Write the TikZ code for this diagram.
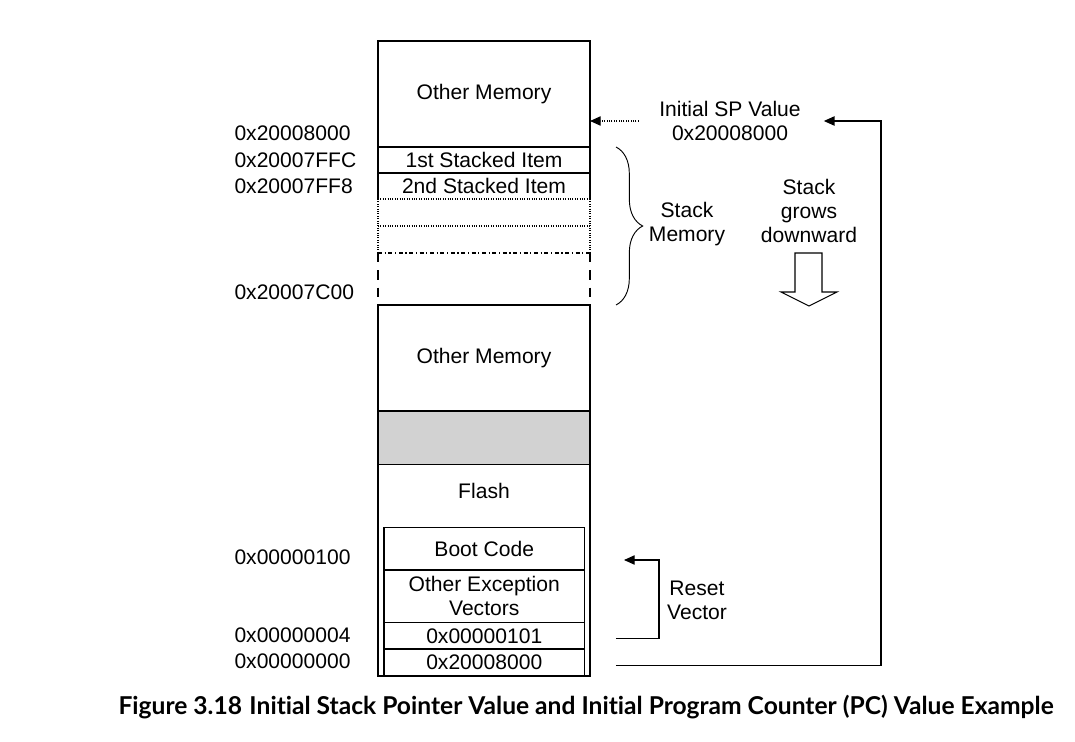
\documentclass[tikz,border=0pt]{standalone}
\usepackage{graphicx}
\usepackage{fontspec}
\setmainfont{Liberation Sans}
\newfontfamily\capfont[Ligatures=NoCommon]{Lato}
\usetikzlibrary{arrows.meta,decorations.pathreplacing}
\begin{document}
\begin{tikzpicture}[x=0.75pt,y=-0.75pt,
  font=\fontsize{15.8}{18}\selectfont,
  line width=0.8pt,
  cell/.style={draw, inner sep=0pt, outer sep=0pt, minimum width=159pt},
  icell/.style={draw, inner sep=0pt, outer sep=0pt, minimum width=150.4pt},
  addr/.style={anchor=west, inner sep=0pt},
  lbl/.style={align=center, inner sep=0pt},
  tip/.style={-{Triangle[length=8pt,width=7pt]}},
]
\useasboundingbox (0,0) rectangle (1075,742);
% main column
\node[cell, minimum height=79.5pt] (om1) at (484,94) {Other Memory};
\node[cell, minimum height=19.5pt] (s1) at (484,160) {1st Stacked Item};
\node[inner sep=0pt, outer sep=0pt, minimum width=159pt, minimum height=19.5pt] (s2) at (484,186) {2nd Stacked Item};
\draw (s2.north west) -- (s2.south west) (s2.north east) -- (s2.south east);
\draw[densely dotted] (s2.south west) -- (s2.south east);
\draw[densely dotted] (s2.south west) -- (378,253) (s2.south east) -- (590,253);
\draw[densely dotted] (378,226) -- (590,226);
\draw[dash dot] (378,253) -- (590,253);
\draw[dash pattern=on 7pt off 6pt] (378,253) -- (378,305) (590,253) -- (590,305);
\node[cell, minimum height=79.5pt] (om2) at (484,358) {Other Memory};
\node[cell, fill=gray!35, minimum height=40.1pt] (gr) at (484,437.75) {};
\node[cell, minimum height=158.6pt] (fl) at (484,570.25) {};
\node[lbl] (flt) at (484,491) {Flash};
\node[icell, minimum height=31.9pt] (boot) at (484.25,548.75) {Boot Code};
\node[icell, minimum height=39.4pt, align=center] (oev) at (484.25,596.25) {Other Exception\\Vectors};
\node[icell, minimum height=19.9pt] (v1) at (484.25,635.75) {0x00000101};
\node[icell, minimum height=20.25pt] (v0) at (484.25,662.5) {0x20008000};
% addresses
\node[addr] (a1) at (234,133) {0x20008000};
\node[addr] (a2) at (234,160) {0x20007FFC};
\node[addr] (a3) at (234,186) {0x20007FF8};
\node[addr] (a4) at (234,292) {0x20007C00};
\node[addr] (a5) at (234,557) {0x00000100};
\node[addr] (a6) at (234,635) {0x00000004};
\node[addr] (a7) at (234,661) {0x00000000};
% right side labels
\node[lbl] (sp) at (730,121) {Initial SP Value\\0x20008000};
\node[lbl] (sm) at (687,224.5) {Stack\\Memory};
\node[lbl] (sg) at (809,211) {Stack\\grows\\downward};
\node[lbl] (rv) at (697,600) {Reset\\Vector};
% brace
\draw[line width=0.7pt, decorate, decoration={brace, amplitude=20pt}] (616,147) -- (616,305);
% block arrow
\draw[fill=white] (795,253) -- (822,253) -- (822,292) -- (837,292) -- (809,306) -- (781,292) -- (795,292) -- cycle;
% connectors
\draw[densely dotted, tip] ([xshift=-15pt]sp.west) -- (sp.west -| om1.east);
\coordinate (spturn) at (881,121);
\draw[tip] ([xshift=23.6pt,yshift=-2.4pt]v0.east) -| (spturn) -- ([xshift=17pt]sp.east);
\coordinate (rvturn) at (659,560);
\coordinate (rvend) at (624,560);
\draw[tip] ([xshift=23.6pt,yshift=-2.4pt]v1.east) -| (rvturn) -- (rvend);
% caption
\node[inner sep=0pt, anchor=base west] (cap) at (118,714) {\resizebox{701.25pt}{!}{\capfont\bfseries Figure 3.18\hspace{0.3em}Initial Stack Pointer Value and Initial Program Counter (PC) Value Example}};
\end{tikzpicture}
\end{document}
